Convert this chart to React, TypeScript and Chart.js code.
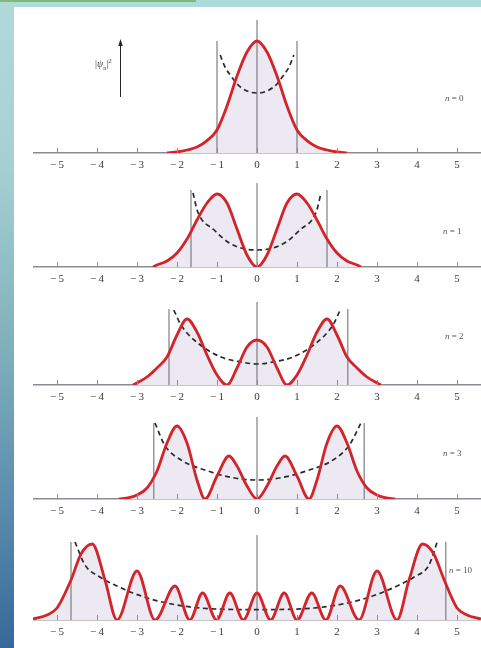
import React, { useEffect, useRef } from "react";
import { Chart, registerables } from "chart.js";

Chart.register(...registerables);

// ---- data (x in oscillator units, y = relative probability density) ----
const TICK_VALUES = [-5, -4, -3, -2, -1, 0, 1, 2, 3, 4, 5];
const QUANTUM_NUMBERS = [0, 1, 2, 3, 10];

const N0_X = [-2.25, -2, -1.75, -1.5, -1.25, -1, -0.75, -0.5, -0.25, 0, 0.25, 0.5, 0.75, 1, 1.25, 1.5, 1.75, 2, 2.25];
const N0_Y = [0, 0.005, 0.015, 0.03, 0.062, 0.115, 0.235, 0.385, 0.505, 0.56, 0.505, 0.385, 0.235, 0.115, 0.062, 0.03, 0.015, 0.005, 0];
const N0_CX = [-0.92, -0.8, -0.65, -0.5, -0.25, 0, 0.25, 0.5, 0.65, 0.8, 0.92];
const N0_CY = [0.49, 0.43, 0.385, 0.345, 0.31, 0.3, 0.31, 0.345, 0.385, 0.43, 0.49];

const N1_X = [-2.6, -2.5, -2.25, -2, -1.75, -1.5, -1.25, -1, -0.75, -0.5, -0.25, 0, 0.25, 0.5, 0.75, 1, 1.25, 1.5, 1.75, 2, 2.25, 2.5, 2.6];
const N1_Y = [0, 0.01, 0.03, 0.07, 0.14, 0.235, 0.32, 0.365, 0.32, 0.19, 0.06, 0, 0.06, 0.19, 0.32, 0.365, 0.32, 0.235, 0.14, 0.07, 0.03, 0.01, 0];
const N1_CX = [-1.6, -1.48, -1.07, -0.73, -0.4, 0, 0.4, 0.73, 1.07, 1.48, 1.6];
const N1_CY = [0.37, 0.275, 0.185, 0.125, 0.095, 0.085, 0.095, 0.125, 0.185, 0.275, 0.37];

const N2_X = [-3.1, -3, -2.75, -2.5, -2.25, -2, -1.75, -1.5, -1.25, -1, -0.75, -0.5, -0.25, 0, 0.25, 0.5, 0.75, 1, 1.25, 1.5, 1.75, 2, 2.25, 2.5, 2.75, 3, 3.1];
const N2_Y = [0, 0.01, 0.04, 0.085, 0.14, 0.25, 0.33, 0.265, 0.15, 0.05, 0, 0.085, 0.19, 0.225, 0.19, 0.085, 0, 0.05, 0.15, 0.265, 0.33, 0.25, 0.14, 0.085, 0.04, 0.01, 0];
const N2_CX = [-2.08, -1.9, -1.48, -0.9, -0.4, 0, 0.4, 0.9, 1.48, 1.9, 2.08];
const N2_CY = [0.375, 0.3, 0.21, 0.14, 0.115, 0.105, 0.115, 0.14, 0.21, 0.3, 0.375];

const N3_X = [-3.45, -3.2, -3, -2.75, -2.5, -2.25, -2, -1.75, -1.5, -1.3, -1, -0.7, -0.5, -0.25, 0, 0.25, 0.5, 0.7, 1, 1.3, 1.5, 1.75, 2, 2.25, 2.5, 2.75, 3, 3.2, 3.45];
const N3_Y = [0, 0.007, 0.02, 0.055, 0.14, 0.28, 0.365, 0.28, 0.095, 0, 0.115, 0.215, 0.165, 0.065, 0, 0.065, 0.165, 0.215, 0.115, 0, 0.095, 0.28, 0.365, 0.28, 0.14, 0.055, 0.02, 0.007, 0];
const N3_CX = [-2.55, -2.31, -1.9, -1.23, -0.57, 0, 0.57, 1.23, 1.9, 2.31, 2.6];
const N3_CY = [0.38, 0.27, 0.195, 0.14, 0.105, 0.095, 0.105, 0.14, 0.195, 0.27, 0.38];

const N10_X = [-5.6, -5.25, -5, -4.65, -4.4, -4.12, -3.8, -3.5, -3.0, -2.55, -2.05, -1.68, -1.36, -1.01, -0.68, -0.34, 0, 0.34, 0.68, 1.0, 1.37, 1.72, 2.08, 2.55, 3.0, 3.5, 3.8, 4.14, 4.42, 4.68, 5, 5.25, 5.6];
const N10_Y = [0.005, 0.025, 0.06, 0.2, 0.33, 0.38, 0.2, 0, 0.245, 0, 0.17, 0, 0.135, 0, 0.135, 0, 0.135, 0, 0.135, 0, 0.135, 0, 0.17, 0, 0.245, 0, 0.2, 0.38, 0.33, 0.2, 0.06, 0.025, 0.005];
const N10_CX = [-4.55, -4.3, -3.93, -3.5, -3.1, -2.74, -2.26, -1.43, 0, 1.43, 2.26, 2.74, 3.1, 3.5, 3.93, 4.3, 4.52];
const N10_CY = [0.39, 0.275, 0.215, 0.17, 0.135, 0.11, 0.085, 0.06, 0.052, 0.06, 0.085, 0.11, 0.135, 0.17, 0.215, 0.275, 0.4];

// classical turning points (vertical lines) and their heights
const TURNING_LEFT = [-1, -1.65, -2.2, -2.58, -4.65];
const TURNING_RIGHT = [1, 1.75, 2.27, 2.68, 4.72];
const TURNING_H = [0.56, 0.385, 0.38, 0.38, 0.39];
// top of the central (x = 0) line
const CENTER_H = [0.665, 0.42, 0.415, 0.41, 0.425];

const CURVES_X = [N0_X, N1_X, N2_X, N3_X, N10_X];
const CURVES_Y = [N0_Y, N1_Y, N2_Y, N3_Y, N10_Y];
const CLASSIC_X = [N0_CX, N1_CX, N2_CX, N3_CX, N10_CX];
const CLASSIC_Y = [N0_CY, N1_CY, N2_CY, N3_CY, N10_CY];

// ---- layout ----
const X_MIN = -5.6;
const X_MAX = 5.6;
const PX_PER_UNIT_Y = 200;
const AXIS_Y = [153, 267, 385, 499, 620];
const PLOT_H = [140, 92, 92, 92, 92];
const AXIS_BAND = 22;
const CANVAS_LEFT = 33;
const CANVAS_W = 448;
const LABEL_POS = [
  { x: 445, y: 98 },
  { x: 443, y: 231 },
  { x: 445, y: 336 },
  { x: 443, y: 453 },
  { x: 449, y: 570 },
];

const zip = (xs: number[], ys: number[]) => xs.map((x, i) => ({ x, y: ys[i] }));

const upTicksPlugin = {
  id: "upTicks",
  afterDraw(chart: any) {
    const { ctx, chartArea, scales } = chart;
    const xs = scales.x;
    ctx.save();
    ctx.strokeStyle = "#8a8a94";
    ctx.lineWidth = 1;
    TICK_VALUES.forEach((v) => {
      const px = Math.round(xs.getPixelForValue(v)) + 0.5;
      ctx.beginPath();
      ctx.moveTo(px, chartArea.bottom);
      ctx.lineTo(px, chartArea.bottom - 5);
      ctx.stroke();
    });
    ctx.restore();
  },
};

function Panel({ idx }: { idx: number }) {
  const ref = useRef<HTMLCanvasElement>(null);
  useEffect(() => {
    if (!ref.current) return;
    const yMax = PLOT_H[idx] / PX_PER_UNIT_Y;
    const lineColor = "#7d7d86";
    const chart = new Chart(ref.current, {
      type: "line",
      data: {
        datasets: [
          {
            label: "|ψ|²",
            data: zip(CURVES_X[idx], CURVES_Y[idx]),
            borderColor: "#d3242a",
            borderWidth: 2.8,
            backgroundColor: "#ece9f3",
            fill: "origin",
            pointRadius: 0,
            cubicInterpolationMode: "monotone",
            order: 0,
          },
          {
            label: "classical",
            data: zip(CLASSIC_X[idx], CLASSIC_Y[idx]),
            borderColor: "#2a2a2a",
            borderWidth: 1.7,
            borderDash: [5, 3.5],
            fill: false,
            pointRadius: 0,
            cubicInterpolationMode: "monotone",
            order: 1,
          },
          {
            label: "left",
            data: [
              { x: TURNING_LEFT[idx], y: 0 },
              { x: TURNING_LEFT[idx], y: TURNING_H[idx] },
            ],
            borderColor: lineColor,
            borderWidth: 1.2,
            fill: false,
            pointRadius: 0,
            order: 2,
          },
          {
            label: "right",
            data: [
              { x: TURNING_RIGHT[idx], y: 0 },
              { x: TURNING_RIGHT[idx], y: TURNING_H[idx] },
            ],
            borderColor: lineColor,
            borderWidth: 1.2,
            fill: false,
            pointRadius: 0,
            order: 2,
          },
          {
            label: "center",
            data: [
              { x: 0, y: 0 },
              { x: 0, y: CENTER_H[idx] },
            ],
            borderColor: lineColor,
            borderWidth: 1.2,
            fill: false,
            pointRadius: 0,
            order: 2,
          },
        ],
      },
      options: {
        animation: false,
        responsive: false,
        events: [],
        layout: { padding: 0 },
        plugins: {
          legend: { display: false },
          tooltip: { enabled: false },
          filler: { drawTime: "beforeDatasetsDraw" },
        },
        scales: {
          x: {
            type: "linear",
            min: X_MIN,
            max: X_MAX,
            afterBuildTicks: (scale: any) => {
              scale.ticks = TICK_VALUES.map((v) => ({ value: v }));
            },
            afterFit: (scale: any) => {
              scale.height = AXIS_BAND;
            },
            grid: { display: false, drawTicks: false },
            border: { display: true, color: "#8a8a96", width: 1.5 },
            ticks: {
              padding: 6,
              autoSkip: false,
              maxRotation: 0,
              color: "#3a3a3a",
              font: { family: "'Liberation Serif', 'DejaVu Serif', serif", size: 11 },
              callback: (v: any) => (Number(v) < 0 ? "\u2212\u2009" + Math.abs(Number(v)) : String(v)),
            },
          },
          y: {
            type: "linear",
            display: false,
            min: 0,
            max: yMax,
          },
        },
      },
      plugins: [upTicksPlugin],
    });
    return () => chart.destroy();
  }, [idx]);

  const top = AXIS_Y[idx] - PLOT_H[idx];
  return (
    <canvas
      ref={ref}
      width={CANVAS_W}
      height={PLOT_H[idx] + AXIS_BAND}
      style={{ position: "absolute", left: CANVAS_LEFT, top, width: CANVAS_W, height: PLOT_H[idx] + AXIS_BAND }}
    />
  );
}

const serif = "'Liberation Serif', 'DejaVu Serif', serif";

export default function App() {
  return (
    <div
      style={{
        position: "absolute",
        left: 0,
        top: 0,
        width: 481,
        height: 648,
        overflow: "hidden",
        background: "#ffffff",
      }}
    >
      {/* top teal band */}
      <div style={{ position: "absolute", left: 0, top: 0, width: 481, height: 7, background: "#b0d9da" }} />
      <div style={{ position: "absolute", left: 0, top: 0, width: 196, height: 2, background: "#7fb879" }} />
      {/* left gradient sidebar */}
      <div
        style={{
          position: "absolute",
          left: 0,
          top: 2,
          width: 14,
          height: 646,
          background: "linear-gradient(to bottom, #b0d9da 0%, #a6d0d3 25%, #7eaebb 55%, #5a8cad 78%, #386899 100%)",
        }}
      />

      {QUANTUM_NUMBERS.map((n, i) => (
        <Panel key={n} idx={i} />
      ))}

      {/* y-axis label and arrow for the first panel */}
      <svg style={{ position: "absolute", left: 110, top: 36, width: 20, height: 66 }} width={20} height={66}>
        <line x1={10.5} y1={61} x2={10.5} y2={8} stroke="#222" strokeWidth={1} />
        <polygon points="10.5,3 8.3,10 12.7,10" fill="#222" />
      </svg>
      <div
        style={{
          position: "absolute",
          left: 95,
          top: 55,
          fontFamily: serif,
          fontSize: 10,
          lineHeight: "12px",
          color: "#444",
          whiteSpace: "nowrap",
        }}
      >
        |<i>ψ</i>
        <sub style={{ fontSize: 6 }}>n</sub>|<sup style={{ fontSize: 7 }}>2</sup>
      </div>

      {QUANTUM_NUMBERS.map((n, i) => (
        <div
          key={"lbl" + n}
          style={{
            position: "absolute",
            left: LABEL_POS[i].x,
            top: LABEL_POS[i].y - 6,
            fontFamily: serif,
            fontSize: 9,
            lineHeight: "12px",
            color: "#555",
            whiteSpace: "nowrap",
          }}
        >
          <i>n</i> = {n}
        </div>
      ))}
    </div>
  );
}
